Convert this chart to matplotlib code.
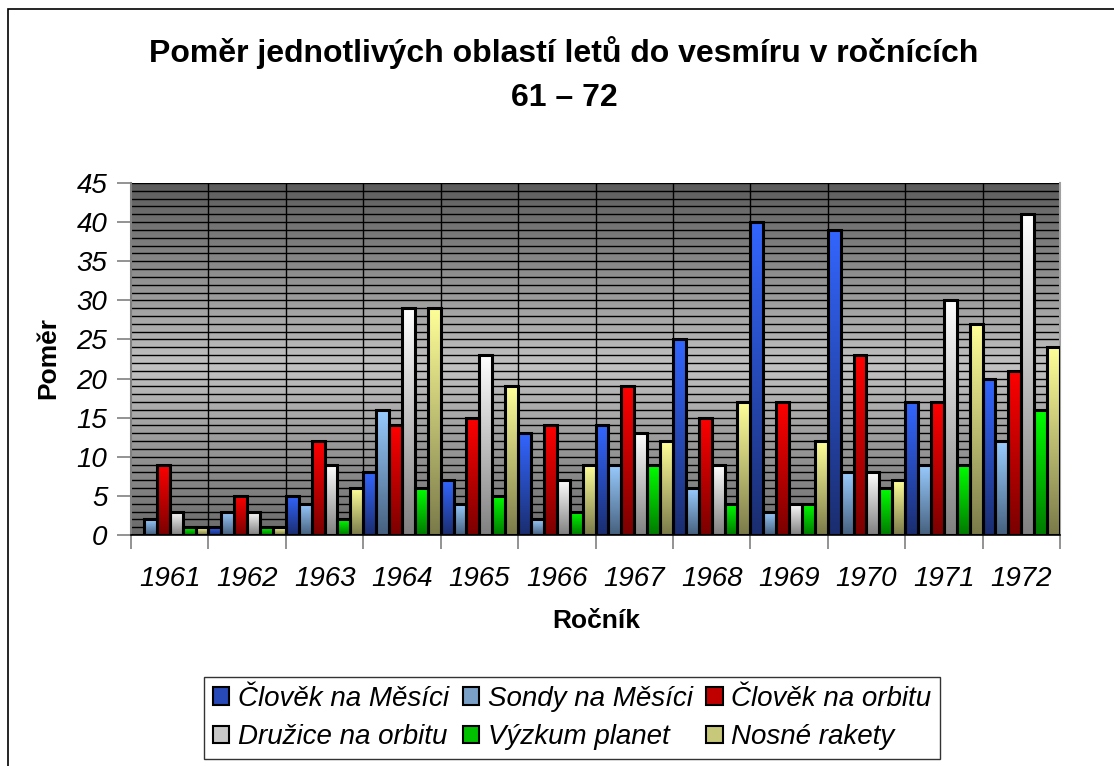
import numpy as np
import matplotlib
matplotlib.use("Agg")
import matplotlib.pyplot as plt
from matplotlib.colors import LinearSegmentedColormap
from matplotlib.patches import Patch, Rectangle

plt.rcParams['font.family'] = ['Liberation Sans', 'DejaVu Sans']

years = ['1961', '1962', '1963', '1964', '1965', '1966',
         '1967', '1968', '1969', '1970', '1971', '1972']
clovek_mesic = [0, 1, 5, 8, 7, 13, 14, 25, 40, 39, 17, 20]
sondy_mesic = [2, 3, 4, 16, 4, 2, 9, 6, 3, 8, 9, 12]
clovek_orbit = [9, 5, 12, 14, 15, 14, 19, 15, 17, 23, 17, 21]
druzice_orbit = [3, 3, 9, 29, 23, 7, 13, 9, 4, 8, 30, 41]
vyzkum_planet = [1, 1, 2, 6, 5, 3, 9, 4, 4, 6, 9, 16]
nosne_rakety = [1, 1, 6, 29, 19, 9, 12, 17, 12, 7, 27, 24]

# name, values, top colour, bottom colour, legend colour
series = [
    ('Člověk na Měsíci', clovek_mesic, '#3366ff', '#1a2d6e', '#2849b8'),
    ('Sondy na Měsíci', sondy_mesic, '#99ccff', '#46607e', '#7aa0c8'),
    ('Člověk na orbitu', clovek_orbit, '#ff0000', '#7a0000', '#c00000'),
    ('Družice na orbitu', druzice_orbit, '#ffffff', '#808080', '#c8c8c8'),
    ('Výzkum planet', vyzkum_planet, '#00ff00', '#007a00', '#00c000'),
    ('Nosné rakety', nosne_rakety, '#ffff99', '#7a7a4a', '#c8c87a'),
]

fig = plt.figure(figsize=(11.14, 7.66), dpi=100)
fig.patch.set_facecolor('white')
# outer frame (right and bottom edges run off the picture)
fig.patches.append(Rectangle((8 / 1114, -10 / 766), 1120 / 1114, 767 / 766,
                             transform=fig.transFigure, fill=False,
                             edgecolor='black', linewidth=1.2))

ax = fig.add_axes([131 / 1114, 231 / 766, 929 / 1114, 352 / 766])

# plot area background gradient: dark - light - dark
bg = LinearSegmentedColormap.from_list(
    'bg', [(0, '#6a6a6a'), (0.48, '#c2c2c2'), (1, '#5c5c5c')])
ax.imshow(np.linspace(0, 1, 256).reshape(-1, 1)[::-1], cmap=bg, aspect='auto',
          extent=[0, 1, 0, 1], transform=ax.transAxes, zorder=0)

n = len(years)
x = np.arange(n)
w = 1 / 6

# gridlines
for v in range(1, 46):
    ax.axhline(v, color='black', linewidth=1.0, zorder=1)
for b in np.arange(0.5, n - 0.5, 1):
    ax.axvline(b, color='black', linewidth=1.0, zorder=1)

grad = np.linspace(0, 1, 256).reshape(-1, 1)
for i, (name, vals, top, bot, _) in enumerate(series):
    cmap = LinearSegmentedColormap.from_list(name, [bot, top])
    bars = ax.bar(x - 0.5 + w * (i + 0.5), vals, width=w, facecolor='none',
                  edgecolor='black', linewidth=2.2, zorder=3)
    for rect in bars:
        h = rect.get_height()
        if h <= 0:
            continue
        im = ax.imshow(grad, cmap=cmap, origin='lower', aspect='auto',
                       extent=[rect.get_x(), rect.get_x() + rect.get_width(), 0, h],
                       zorder=2)
        im.set_clip_path(rect)

ax.set_xlim(-0.5, n - 0.5)
ax.set_ylim(0, 45)

ax.spines['top'].set_visible(False)
ax.spines['left'].set_color('#808080')
ax.spines['left'].set_linewidth(1.5)
ax.spines['right'].set_color('#a0a0a0')
ax.spines['right'].set_linewidth(1.5)
ax.spines['bottom'].set_color('black')
ax.spines['bottom'].set_linewidth(1.2)

ax.set_yticks(range(0, 46, 5))
ax.set_yticklabels([str(v) for v in range(0, 46, 5)], fontsize=20, style='italic')
ax.tick_params(axis='y', length=10, width=1.2, color='#808080', pad=7)

ax.set_xticks(x)
ax.set_xticklabels(years, fontsize=20, style='italic')
ax.tick_params(axis='x', length=0, pad=22)
ax.set_xticks(np.arange(-0.5, n, 1), minor=True)
ax.tick_params(axis='x', which='minor', length=10, width=1.2, color='#808080')

fig.text(48 / 1114, 1 - 358 / 766, 'Poměr', rotation=90, fontsize=19,
         fontweight='bold', ha='center', va='center')
fig.text(596 / 1114, 1 - 621 / 766, 'Ročník', fontsize=19,
         fontweight='bold', ha='center', va='center')
fig.text(564 / 1114, 1 - 53 / 766,
         'Poměr jednotlivých oblastí letů do vesmíru v ročnících',
         fontsize=23, fontweight='bold', ha='center', va='center')
fig.text(564 / 1114, 1 - 98 / 766, '61 – 72',
         fontsize=23, fontweight='bold', ha='center', va='center')

# legend is filled row by row in the reference
order = [0, 3, 1, 4, 2, 5]
handles = [Patch(facecolor=series[k][4], edgecolor='black', linewidth=1.5)
           for k in order]
labels = [series[k][0] for k in order]
leg = fig.legend(handles, labels, ncol=3,
                 loc='center', bbox_to_anchor=(572 / 1114, 1 - 718 / 766),
                 frameon=True, fancybox=False, edgecolor='black',
                 prop={'size': 20, 'style': 'italic'},
                 handlelength=0.6, handleheight=0.6, handletextpad=0.3,
                 columnspacing=0.5, labelspacing=0.45, borderpad=0.3)
leg.get_frame().set_linewidth(1.0)

fig.savefig('out.png', dpi=100)
